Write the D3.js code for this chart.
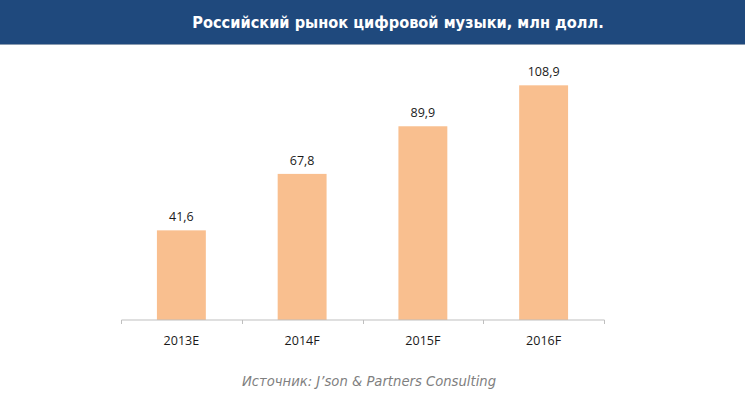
<!DOCTYPE html>
<html><head><meta charset="utf-8">
<script src="https://cdn.jsdelivr.net/npm/d3@7"></script>
<style>html,body{margin:0;padding:0;background:#fff;}svg{display:block;}</style>
</head><body>
<script>
const categories = ["2013E", "2014F", "2015F", "2016F"];
const values = [41.6, 67.8, 89.9, 108.9];
const valueLabels = ["41,6", "67,8", "89,9", "108,9"];
const title = "Российский рынок цифровой музыки, млн долл.";
const source = "Источник: J’son & Partners Consulting";

const W = 745, H = 396;
const svg = d3.select("body").append("svg").attr("width", W).attr("height", H);

svg.append("rect").attr("x",0).attr("y",0).attr("width",W).attr("height",44).attr("fill","#1f497d");
svg.append("rect").attr("x",0).attr("y",44).attr("width",W).attr("height",1).attr("fill","#8a9bb0");
svg.append("text").attr("x",398).attr("y",28).attr("text-anchor","middle")
  .attr("font-family","'DejaVu Sans Condensed','DejaVu Sans',sans-serif").attr("font-stretch","condensed")
  .attr("font-weight","bold").attr("font-size",16.2).attr("fill","#fff").text(title);

const x = d3.scaleBand().domain(categories).range([121, 604]).paddingInner(0).paddingOuter(0);
const y = d3.scaleLinear().domain([0, 120]).range([320, 61.4]);
const bw = x.bandwidth() * 0.405;

const g = svg.append("g");
g.selectAll("rect.bar").data(values).enter().append("rect")
  .attr("x", (d,i) => x(categories[i]) + (x.bandwidth()-bw)/2)
  .attr("y", d => y(d))
  .attr("width", bw)
  .attr("height", d => y(0) - y(d))
  .attr("fill", "#f9bf8f");

g.selectAll("text.val").data(values).enter().append("text")
  .attr("x", (d,i) => x(categories[i]) + x.bandwidth()/2)
  .attr("y", d => y(d) - 9)
  .attr("text-anchor","middle")
  .attr("font-family","'Open Sans',sans-serif").attr("font-size",12.5).attr("fill","#1a1a1a")
  .text((d,i) => valueLabels[i]);

const axis = d3.axisBottom(x).tickSize(0).tickPadding(16);
const ag = svg.append("g").attr("transform","translate(0,320)").call(axis);
ag.select(".domain").attr("stroke","#bfbfbf").attr("d","M121.5,0H604.5");
ag.selectAll("text").attr("font-family","'Open Sans',sans-serif").attr("font-size",12.5).attr("fill","#1a1a1a");
const tickPos = categories.map(c => x(c)).concat([x.range()[1]]);
ag.selectAll("line.sep").data(tickPos).enter().append("line")
  .attr("x1", d => Math.round(d)+0.5).attr("x2", d => Math.round(d)+0.5)
  .attr("y1", 0).attr("y2", 4).attr("stroke","#bfbfbf");

svg.append("text").attr("x",369).attr("y",386).attr("text-anchor","middle")
  .attr("font-family","'DejaVu Sans',sans-serif").attr("font-style","italic")
  .attr("font-size",13.2).attr("fill","#7f7f7f").text(source);
</script>
</body></html>
